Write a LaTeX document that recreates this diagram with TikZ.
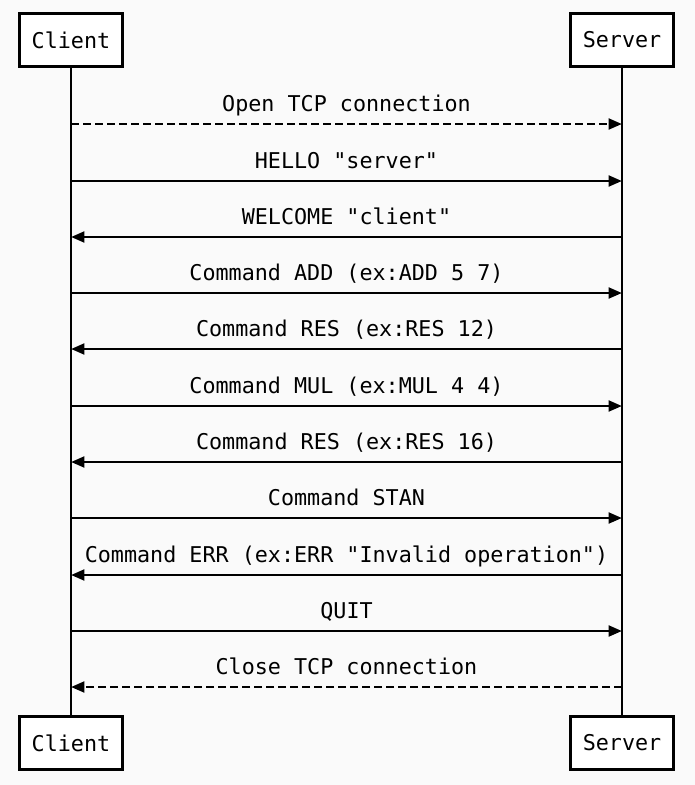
\documentclass[tikz,border=0pt]{standalone}
\usepackage{fontspec}
\setmonofont{DejaVu Sans Mono}
\usepackage{xcolor}
\usetikzlibrary{arrows.meta,positioning}
\definecolor{paper}{RGB}{250,250,250}

\begin{document}
\begin{tikzpicture}[x=0.75pt,y=-0.75pt,
  actor/.style={draw,line width=2.1pt,fill=white,minimum width=77.6pt,minimum height=40pt,inner sep=0pt,font=\ttfamily\fontsize{16.3}{18}\selectfont},
  life/.style={line width=2.1pt},
  msg/.style={line width=2.1pt,-{Triangle[length=10pt,width=8pt]}},
  lbl/.style={anchor=base,yshift=9.75pt,inner sep=0pt,font=\ttfamily\fontsize{16.3}{18}\selectfont},
  dashed/.style={dash pattern=on 6pt off 3pt}]
% ----- page -----
\fill[paper] (0,0) rectangle (695,785);
\useasboundingbox (0,0) rectangle (695,785);
% ----- actors -----
\node[actor] (cTop) at (71,40) {Client};
\node[actor] (sTop) at (622,40) {Server};
\node[actor] (cBot) at (71,743) {Client};
\node[actor] (sBot) at (622,743) {Server};
\draw[life] (cTop) -- (cBot);
\draw[life] (sTop) -- (sBot);
% ----- messages -----
\foreach \y/\a/\b/\st/\txt in {
  124/c/s/dashed/{Open TCP connection},
  181/c/s/solid/{HELLO "server"},
  237/s/c/solid/{WELCOME "client"},
  293/c/s/solid/{Command ADD (ex:ADD 5 7)},
  349/s/c/solid/{Command RES (ex:RES 12)},
  406/c/s/solid/{Command MUL (ex:MUL 4 4)},
  462/s/c/solid/{Command RES (ex:RES 16)},
  518/c/s/solid/{Command STAN},
  575/s/c/solid/{Command ERR (ex:ERR "Invalid operation")},
  631/c/s/solid/{QUIT},
  687/s/c/dashed/{Close TCP connection}}
{
  \coordinate (c\y) at (71,\y);
  \coordinate (s\y) at (622,\y);
  \draw[msg,\st] (\a\y) -- node[lbl] {\txt} (\b\y);
}
\end{tikzpicture}
\end{document}
